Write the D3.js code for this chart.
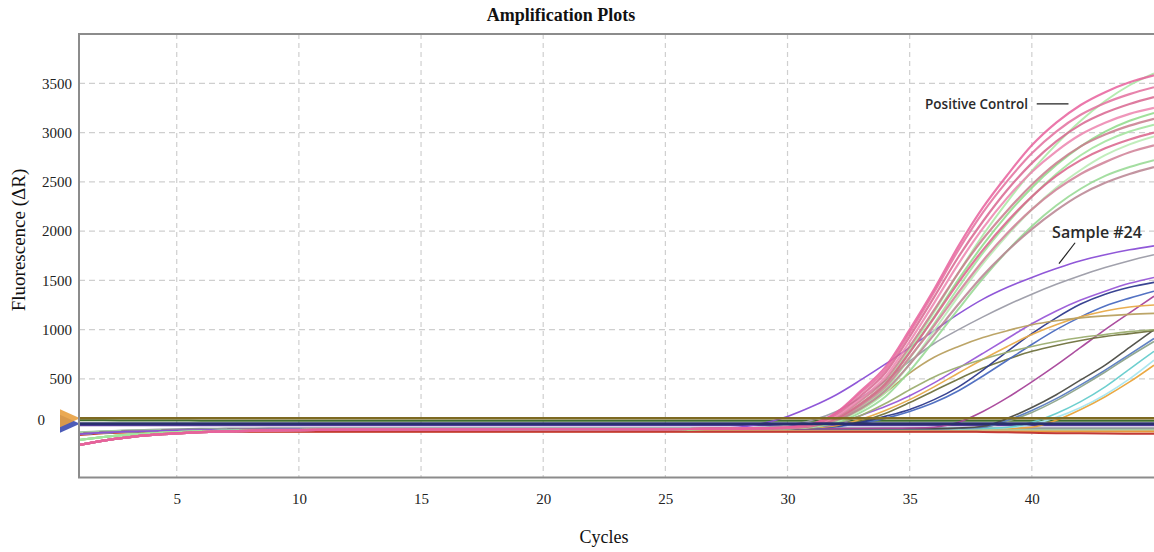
<!DOCTYPE html>
<html><head><meta charset="utf-8">
<script src="https://cdn.jsdelivr.net/npm/d3@7"></script>
<style>body{margin:0;background:#fff}</style>
</head><body><svg id="c" width="1154" height="552"></svg>
<script>
// ---------- data ----------
const cycles = [1,2,3,4,5,6,7,8,9,10,11,12,13,14,15,16,17,18,19,20,21,22,23,24,25,26,27,28,29,30,31,32,33,34,35,36,37,38,39,40,41,42,43,44,45];
const xTicks = [5,10,15,20,25,30,35,40];
const yTicks = [0,500,1000,1500,2000,2500,3000,3500];

// early-cycle baseline profiles (cycles 1-25)
const earlyDeep = [-170,-125,-92,-68,-52,-40,-32,-26,-22,-19,-17,-15,-14,-13,-12,-12,-11,-11,-10,-10,-10,-10,-10,-9,-9];
const earlyMid  = [-120,-88,-65,-50,-39,-31,-26,-22,-19,-17,-15,-14,-13,-12,-12,-11,-11,-10,-10,-10,-10,-10,-9,-9,-9];
const earlyLow  = [-60,-45,-35,-28,-22,-18,-15,-13,-11,-10,-9,-8,-8,-7,-7,-7,-6,-6,-6,-6,-6,-6,-5,-5,-5];

// negative samples (all 45 cycles)
const negNames = ["NTC-1","NTC-2","NTC-3","NTC-4","NTC-5","NTC-6"];
const negColors = ["#3f6e2c","#5b3fa6","#8c929a","#a2c8a0","#e89a3c","#c23a36"];
const negValues = [
  [82,80,79,78,78,77,77,77,76,76,76,76,76,76,76,76,76,76,76,76,76,76,76,76,76,76,76,76,76,76,76,76,76,76,76,76,76,76,76,76,76,76,76,76,76],
  [30,30,30,30,30,30,30,30,30,30,30,30,30,30,30,30,30,30,30,30,30,30,30,30,30,30,30,30,30,30,30,30,30,30,30,30,30,30,30,30,30,30,30,30,30],
  [-45,-32,-22,-15,-10,-6,-4,-2,-1,0,0,0,0,0,0,0,0,0,0,0,0,0,0,0,0,0,0,0,0,0,0,0,0,0,0,0,0,0,0,0,0,0,0,0,0],
  [-40,-30,-24,-20,-18,-17,-16,-16,-16,-16,-17,-18,-19,-20,-21,-21,-22,-22,-22,-22,-21,-20,-19,-18,-17,-16,-16,-15,-15,-15,-15,-15,-15,-15,-15,-15,-15,-15,-15,-15,-15,-15,-15,-15,-15],
  [-60,-48,-40,-36,-34,-33,-32,-32,-32,-32,-32,-32,-32,-32,-32,-32,-32,-32,-32,-32,-32,-32,-32,-32,-32,-32,-32,-32,-32,-32,-32,-32,-32,-32,-32,-32,-32,-32,-32,-32,-32,-32,-32,-32,-32],
  [-70,-52,-42,-38,-36,-35,-35,-35,-35,-35,-35,-35,-35,-35,-35,-35,-35,-35,-35,-35,-35,-35,-35,-35,-35,-35,-35,-35,-35,-35,-35,-35,-35,-35,-35,-35,-35,-38,-42,-46,-50,-52,-54,-55,-55]
];

// amplified samples: early profile + cycles 26-45
const ampNames = ["P1","P2","P3","P4","P5","P6","P7","P8","G1","G2","G3","G4","G5","Sample #24","Gray","L1","L2","L3","L4","L5","L6","L7","M1","M2","M3","M4","M5","M6","M7"];
const ampColors = ["#e8609c","#e36f9e","#d8658f","#ec84ae","#c97a8c","#d9628a","#cf7f95","#b98390",
  "#a8e8a2","#8edb88","#9fe39a","#b6eab0","#94d890",
  "#8a4fd6","#9c9ca8",
  "#b8a060","#9cae70","#9a5ad8","#e8aa48","#2e3a8c","#4a6ac0","#70723e",
  "#a8449a","#4c4c44","#5a7cc0","#8da48a","#66cccc","#a6e6f0","#eaa43a"];
const ampEarly = ["deep","deep","deep","deep","deep","deep","deep","deep",
  "mid","mid","mid","mid","mid","low","low","low","low","low","low","low","low","low","low","low","low","low","low","low","low"];
const ampLate = [
  [-8,-6,-4,0,10,45,160,380,620,1000,1410,1850,2240,2570,2870,3100,3280,3410,3510,3580],
  [-8,-6,-4,0,8,40,150,360,590,970,1380,1810,2190,2510,2790,3010,3180,3300,3390,3460],
  [-8,-6,-4,-1,6,35,140,330,560,930,1330,1740,2100,2420,2690,2910,3080,3200,3290,3360],
  [-8,-6,-5,-2,5,30,120,300,520,880,1270,1670,2030,2340,2600,2810,2980,3100,3190,3250],
  [-8,-7,-5,-2,4,28,110,280,490,830,1200,1580,1920,2210,2470,2690,2860,2980,3070,3140],
  [-8,-7,-5,-2,3,25,100,250,450,770,1120,1480,1810,2100,2350,2560,2720,2840,2930,3000],
  [-8,-7,-5,-3,2,22,90,230,420,720,1040,1380,1700,1980,2220,2420,2580,2700,2800,2870],
  [-8,-7,-6,-3,2,20,80,200,380,650,950,1260,1550,1800,2020,2210,2370,2490,2580,2650],
  [-10,-8,-6,-4,2,25,90,250,460,800,1180,1580,1960,2300,2610,2880,3120,3320,3480,3600],
  [-10,-8,-6,-4,0,20,85,240,440,770,1130,1510,1860,2170,2440,2670,2860,3010,3120,3200],
  [-10,-8,-6,-4,0,18,75,210,400,710,1060,1430,1780,2080,2350,2580,2770,2910,3010,3080],
  [-10,-8,-6,-4,0,15,65,185,360,650,990,1340,1670,1960,2220,2440,2620,2770,2880,2960],
  [-10,-8,-6,-5,-1,12,55,160,320,580,890,1210,1520,1800,2050,2260,2430,2560,2650,2720],
  [-5,0,10,50,120,220,340,490,650,820,990,1160,1310,1430,1530,1620,1700,1760,1810,1850],
  [-5,-3,0,10,30,80,170,310,480,680,860,1000,1130,1250,1360,1460,1550,1630,1700,1760],
  [-5,-5,-4,-2,5,30,80,190,360,560,720,830,920,990,1050,1090,1120,1140,1155,1165],
  [-5,-5,-5,-3,2,15,50,130,250,390,520,620,700,770,830,880,920,950,980,1000],
  [-5,-5,-5,-4,0,10,40,130,220,330,460,610,760,910,1060,1190,1300,1390,1470,1530],
  [-5,-5,-5,-4,-2,5,25,90,180,290,420,560,700,830,950,1050,1130,1190,1230,1250],
  [-5,-5,-5,-4,-2,5,20,60,120,190,290,420,590,780,960,1120,1260,1360,1430,1480],
  [-5,-5,-5,-4,-3,2,15,50,100,170,260,380,530,690,850,1000,1130,1240,1320,1390],
  [-5,-5,-5,-4,-2,5,20,70,150,260,380,500,610,700,780,840,890,930,960,990],
  [-5,-5,-5,-5,-5,-5,-4,-3,-1,2,10,60,170,310,470,640,820,1000,1170,1340],
  [-5,-5,-5,-5,-5,-5,-5,-5,-5,-5,-4,2,20,100,210,340,490,640,820,1000],
  [-5,-5,-5,-5,-5,-5,-5,-5,-5,-5,-4,0,10,80,180,300,440,590,750,910],
  [-5,-5,-5,-5,-5,-5,-5,-5,-5,-5,-4,0,10,70,160,280,420,570,730,880],
  [-5,-5,-5,-5,-5,-5,-5,-5,-5,-5,-5,-4,-2,10,60,150,270,420,600,780],
  [-5,-5,-5,-5,-5,-5,-5,-5,-5,-5,-5,-5,-3,5,40,110,210,340,500,690],
  [-5,-5,-5,-5,-5,-5,-5,-5,-5,-5,-5,-5,-5,-3,10,80,190,320,470,640]
];

// threshold lines
const thresholdValues = [45, 100];
const thresholdColors = ["#28306e", "#7e6a22"];
const thresholdMarkerColors = ["#3a4ab0", "#e8a040"];

// annotations (data units)
const annoTexts = ["Positive Control", "Sample #24"];
const annoCycle = [35.63, 40.83];
const annoValue = [3240, 1933];
const annoLineFrom = [[40.2, 3292], [41.77, 1882]];
const annoLineTo = [[41.5, 3292], [41.11, 1669]];

// ---------- drawing ----------
const svg = d3.select("#c");
const L = 79, R = 1154, T = 34, B = 477.5;
const x = d3.scaleLinear().domain([1, 45]).range([L, R]);
const y = d3.scaleLinear().domain([-500, 4000]).range([B, T]);
const serif = "'Liberation Serif','Times New Roman',serif";

// grid
const grid = svg.append("g");
grid.selectAll("line.v").data(xTicks).join("line")
  .attr("x1", d => x(d)).attr("x2", d => x(d)).attr("y1", T).attr("y2", B)
  .attr("stroke", "#cfcfcf").attr("stroke-dasharray", "5,4").attr("stroke-width", 1.2);
grid.selectAll("line.h").data(yTicks.filter(d => d > 0)).join("line")
  .attr("x1", L).attr("x2", R).attr("y1", d => y(d)).attr("y2", d => y(d))
  .attr("stroke", "#cfcfcf").attr("stroke-dasharray", "6,4").attr("stroke-width", 1.2);

// clip
svg.append("clipPath").attr("id", "clip").append("rect")
  .attr("x", L).attr("y", T).attr("width", R - L).attr("height", B - T);

const line = d3.line().x((d, i) => x(cycles[i])).y(d => y(d)).curve(d3.curveMonotoneX);
const plot = svg.append("g").attr("clip-path", "url(#clip)");

// negatives
plot.selectAll("path.neg").data(negValues).join("path")
  .attr("d", line).attr("fill", "none")
  .attr("stroke", (d, i) => negColors[i]).attr("stroke-width", 2);

const profiles = {deep: earlyDeep, mid: earlyMid, low: earlyLow};
const ampSeries = ampLate.map((late, i) => ({
  name: ampNames[i], color: ampColors[i],
  values: profiles[ampEarly[i]].concat(late)
}));
// draw lower groups first, pinks last
const order = d3.range(ampSeries.length).reverse();
plot.selectAll("path.amp").data(order.map(i => ampSeries[i])).join("path")
  .attr("d", d => line(d.values)).attr("fill", "none")
  .attr("stroke", d => d.color)
  .attr("stroke-opacity", d => /^[PG]\d/.test(d.name) ? 0.85 : 0.95)
  .attr("stroke-width", d => /^P\d/.test(d.name) ? 2.2 : (/^G\d/.test(d.name) ? 2 : 1.6));

// thresholds
plot.selectAll("line.th").data(thresholdValues).join("line")
  .attr("x1", L).attr("x2", R).attr("y1", d => y(d)).attr("y2", d => y(d))
  .attr("stroke", (d, i) => thresholdColors[i]).attr("stroke-width", (d, i) => i === 0 ? 3 : 2.5);

// threshold markers
svg.selectAll("path.mk").data(thresholdValues).join("path")
  .attr("d", d => {
    const yy = y(d), x0 = x(1);
    return `M${x0 - 19},${yy - 9}L${x0 + 1},${yy}L${x0 - 19},${yy + 9}Z`;
  })
  .attr("fill", (d, i) => thresholdMarkerColors[i]).attr("opacity", 0.9);

// frame
svg.append("path").attr("d", `M${R},${T}H${L}V${B}H${R}`)
  .attr("fill", "none").attr("stroke", "#8c8c8c").attr("stroke-width", 2);

// axes
const yAxis = svg.append("g").attr("transform", `translate(${L},0)`)
  .call(d3.axisLeft(y).tickValues(yTicks).tickFormat(d3.format("d")).tickSize(0).tickPadding(7));
yAxis.select(".domain").remove();
yAxis.selectAll("text").attr("font-family", serif).attr("font-size", 15).attr("fill", "#222")
  .attr("dy", d => d === 0 ? "-0.25em" : "0.32em")
  .attr("dx", d => d === 0 ? -27 : 0);

const xAxis = svg.append("g").attr("transform", `translate(0,${B})`)
  .call(d3.axisBottom(x).tickValues(xTicks).tickSize(0).tickPadding(16));
xAxis.select(".domain").remove();
xAxis.selectAll("text").attr("font-family", serif).attr("font-size", 15).attr("fill", "#222");

// titles
svg.append("text").attr("x", 561).attr("y", 21).attr("text-anchor", "middle")
  .attr("font-family", serif).attr("font-weight", "bold").attr("font-size", 18).attr("fill", "#111")
  .text("Amplification Plots");
svg.append("text").attr("transform", "translate(25,240) rotate(-90)").attr("text-anchor", "middle")
  .attr("font-family", serif).attr("font-size", 19).attr("fill", "#111")
  .text("Fluorescence (ΔR)");
svg.append("text").attr("x", 604).attr("y", 543).attr("text-anchor", "middle")
  .attr("font-family", serif).attr("font-size", 18).attr("fill", "#111")
  .text("Cycles");

// annotations
annoTexts.forEach((t, i) => {
  svg.append("text").attr("x", x(annoCycle[i])).attr("y", y(annoValue[i]))
    .attr("font-family", "'Open Sans',sans-serif").attr("font-weight", 600)
    .attr("font-size", i === 0 ? 13.5 : 16).attr("fill", "#2a2a2a").text(t);
  svg.append("line")
    .attr("x1", x(annoLineFrom[i][0])).attr("y1", y(annoLineFrom[i][1]))
    .attr("x2", x(annoLineTo[i][0])).attr("y2", y(annoLineTo[i][1]))
    .attr("stroke", "#222").attr("stroke-width", 1.2);
});
</script></body></html>
